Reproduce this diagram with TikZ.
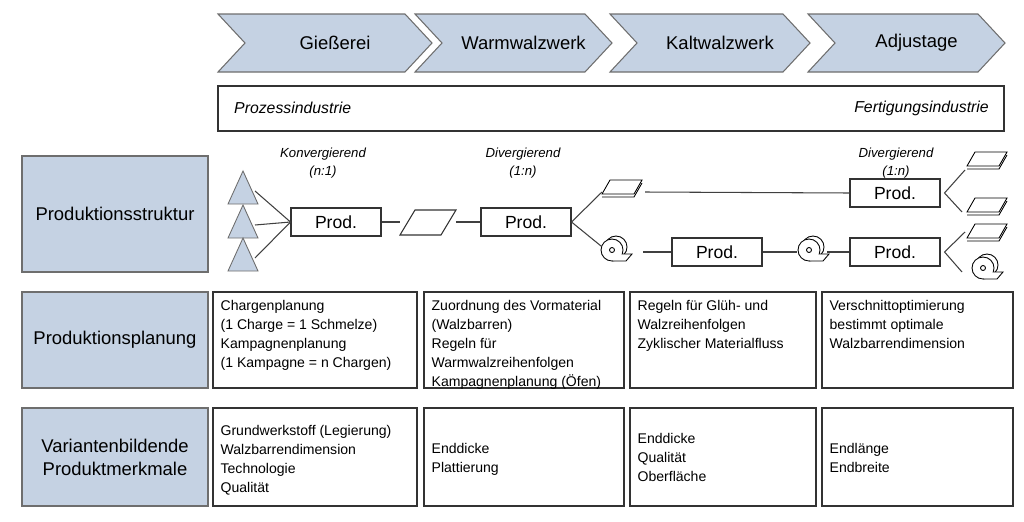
\documentclass[tikz,border=0pt]{standalone}
\usepackage{fontspec}
\setmainfont{Liberation Sans}
\usetikzlibrary{positioning,calc,shapes.geometric,shapes.symbols}
\definecolor{stepblue}{RGB}{197,210,227}
\definecolor{lineGray}{RGB}{110,110,110}
\begin{document}
\begin{tikzpicture}[x=0.02cm,y=-0.02cm,
	chev/.style={draw=lineGray,fill=stepblue,line width=0.6pt},
	headbox/.style={draw=lineGray,fill=stepblue,line width=0.6pt,font=\fontsize{10.5}{13}\selectfont},
	cellbox/.style={align=left,font=\fontsize{8}{10.8}\selectfont,inner sep=3pt},
	prod/.style={draw=black!80,line width=0.6pt,minimum width=1.8cm,minimum height=0.56cm,inner sep=1pt,font=\fontsize{10}{12}\selectfont},
	note/.style={font=\fontsize{7.5}{10}\selectfont\itshape,align=center},
	conn/.style={draw=black!75,line width=0.6pt},
	tri/.style={draw=lineGray,fill=stepblue,line width=0.5pt}
	]
	\useasboundingbox (0,0) rectangle (1024,521);
	
	% Prozesskette
	\foreach \xa/\xb/\txt [count=\i] in {218/432/Gießerei,415/612/Warmwalzwerk,610/810/Kaltwalzwerk,808/1005/Adjustage}{
		\draw[chev] (\xa,14) -- (\xb-27,14) -- (\xb,43) -- (\xb-27,72) -- (\xa,72) -- (\xa+27,43) -- cycle;
		\node[font=\fontsize{10.5}{13}\selectfont] (step\i) at ({(\xa+\xb)/2+10},43) {\txt};
	}
	\draw[draw=black!80,line width=0.6pt] (218,86) rectangle (1004,131);
	\node[anchor=west,font=\fontsize{9}{11}\selectfont\itshape] (proz) at (228,108) {Prozessindustrie};
	\node[anchor=east,font=\fontsize{9}{11}\selectfont\itshape] (fert) at (995,108) {Fertigungsindustrie};
	
	% Zeilenköpfe
	\node[headbox,minimum width=3.72cm,minimum height=2.32cm] (h1) at (115,214) {Produktionsstruktur};
	\node[headbox,minimum width=3.72cm,minimum height=1.92cm] (h2) at (115,340) {Produktionsplanung};
	\node[headbox,minimum width=3.72cm,minimum height=1.96cm,align=center] (h3) at (115,457) {Variantenbildende\\Produktmerkmale};
	
	% Planung
	\foreach \xa/\xb/\txt [count=\i] in {
		213/417/{Chargenplanung\\(1 Charge = 1 Schmelze)\\Kampagnenplanung\\(1 Kampagne = n Chargen)},
		424/624/{Zuordnung des Vormaterial\\(Walzbarren)\\Regeln für\\Warmwalzreihenfolgen\\Kampagnenplanung (Öfen)},
		630/816/{Regeln für Glüh- und\\Walzreihenfolgen\\Zyklischer Materialfluss},
		822/1013/{Verschnittoptimierung\\bestimmt optimale\\Walzbarrendimension}}{
		\draw[draw=black!80,line width=0.6pt] (\xa,292) rectangle (\xb,388);
		\node[cellbox,anchor=north west] (plan\i) at (\xa+2,295) {\txt};
	}
	% Merkmale
	\foreach \xa/\xb/\ya/\txt [count=\i] in {
		213/417/420/{Grundwerkstoff (Legierung)\\Walzbarrendimension\\Technologie\\Qualität},
		424/624/438/{Enddicke\\Plattierung},
		630/816/428/{Enddicke\\Qualität\\Oberfläche},
		822/1013/438/{Endlänge\\Endbreite}}{
		\draw[draw=black!80,line width=0.6pt] (\xa,408) rectangle (\xb,506);
		\node[cellbox,anchor=north west] (merk\i) at (\xa+2,\ya) {\txt};
	}
	
	% Produktionsstruktur
	\foreach \yy [count=\i] in {188,222,255}{
		\draw[tri] (228,\yy+16) -- (243,\yy-17) -- (258,\yy+16) -- cycle;
		\coordinate (rm\i) at (255,\yy+3);
	}
	\node[prod] (p1) at (336,222) {Prod.};
	\node[minimum width=1.1cm,minimum height=0.5cm,inner sep=0pt] (bar) at (428,222) {};
	\draw[line width=0.6pt,draw=black!80] (400,235) -- (415,210) -- (456,210) -- (441,235) -- cycle;
	\node[prod] (p2) at (526,222) {Prod.};
	\node[prod] (p3) at (895,193) {Prod.};
	\node[prod] (p4) at (717,252) {Prod.};
	\node[prod] (p5) at (895,252) {Prod.};
	\foreach \i in {1,2,3}{\draw[conn] (rm\i) -- (p1.west);}
	\draw[conn] (p1) -- (bar);
	\draw[conn] (bar) -- (p2);
	
	% Bleche und Coils
	\tikzset{
		plate/.pic={\draw[fill=white,line width=0.5pt] (-18,4) -- (14,4) -- (22,-10) -- (-10,-10) -- cycle;
			\draw[line width=0.5pt] (-18,7) -- (14,7) -- (22,-7);},
		coil/.pic={\draw[fill=white,line width=0.5pt] (4,-3) circle (11);
			\draw[fill=white,line width=0.5pt] (0,0) circle (11);
			\draw[line width=0.5pt] (0,0) circle (2.5);
			\draw[fill=white,line width=0.5pt] (0,11) -- (14,11) -- (20,4) -- (10,4);}
	}
	\pic at (620,190) {plate};
	\coordinate (pl1) at (602,192);
	\coordinate (pl1e) at (645,192);
	\pic at (612,250) {coil};
	\coordinate (co1) at (601,246);
	\coordinate (co1e) at (643,252);
	\pic at (809,250) {coil};
	\coordinate (co2w) at (797,252);
	\coordinate (co2e) at (827,252);
	\pic at (985,162) {plate};
	\pic at (985,208) {plate};
	\pic at (985,234) {plate};
	\pic at (983,268) {coil};
	\coordinate (o1) at (965,170);
	\coordinate (o2) at (962,212);
	\coordinate (o3) at (965,232);
	\coordinate (o4) at (962,272);
	\draw[conn] (p2.east) -- (pl1);
	\draw[conn] (p2.east) -- (co1);
	\draw[conn] (pl1e) -- (p3.west);
	\draw[conn] (co1e) -- (p4.west);
	\draw[conn] (p4.east) -- (co2w);
	\draw[conn] (co2e) -- (p5.west);
	\draw[conn] (o1) -- ($(p3.east)+(4,0)$) -- (o2);
	\draw[conn] (o3) -- ($(p5.east)+(4,0)$) -- (o4);
	
	\node[note] (n1) at (323,163) {Konvergierend\\(n:1)};
	\node[note] (n2) at (523,163) {Divergierend\\(1:n)};
	\node[note] (n3) at (896,163) {Divergierend\\(1:n)};
\end{tikzpicture}
\end{document}
